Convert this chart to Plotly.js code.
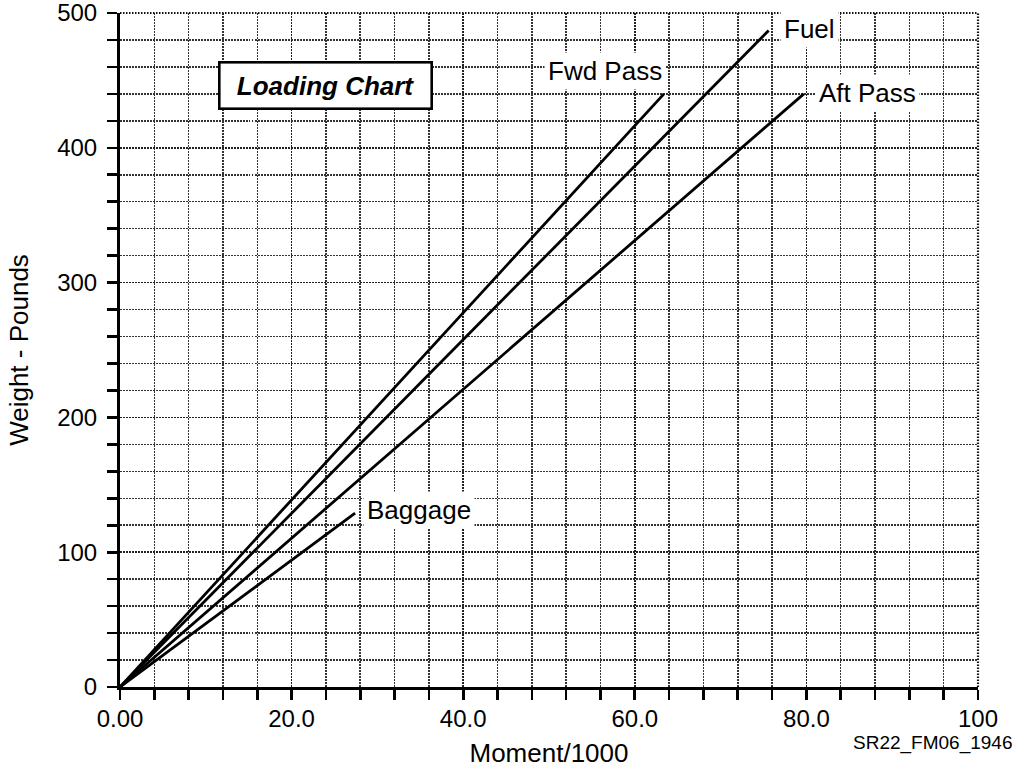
<!DOCTYPE html>
<html>
<head>
<meta charset="utf-8">
<script src="https://cdn.plot.ly/plotly-3.0.1.min.js"></script>
<style>html,body{margin:0;padding:0;background:#fff;}#chart{width:1022px;height:771px;}</style>
</head>
<body>
<div id="chart"></div>
<script>
// Data (Moment/1000 vs Weight in pounds)
var seriesNames = ["Fwd Pass", "Fuel", "Aft Pass", "Baggage"];
var fwdPassMoment = [0, 63.4];
var fwdPassWeight = [0, 440];
var fuelMoment = [0, 75.6];
var fuelWeight = [0, 487];
var aftPassMoment = [0, 79.7];
var aftPassWeight = [0, 440];
var baggageMoment = [0, 27.4];
var baggageWeight = [0, 129];

var xTickVals = [0, 20, 40, 60, 80, 100];
var xTickText = ["0.00", "20.0", "40.0", "60.0", "80.0", "100"];
var yTickVals = [0, 100, 200, 300, 400, 500];
var yTickText = ["0", "100", "200", "300", "400", "500"];

// label anchor positions (data units)
var labelX = [56.5, 80.4, 87.1, 34.8];
var labelY = [457, 488, 441, 131];

var FONT = "Liberation Sans, Arial, Helvetica, sans-serif";
var lineStyle = {color: "#000", width: 2.8};

var traces = [
  {x: fwdPassMoment, y: fwdPassWeight, name: seriesNames[0]},
  {x: fuelMoment, y: fuelWeight, name: seriesNames[1]},
  {x: aftPassMoment, y: aftPassWeight, name: seriesNames[2]},
  {x: baggageMoment, y: baggageWeight, name: seriesNames[3]}
].map(function (t) {
  t.type = "scatter"; t.mode = "lines"; t.line = lineStyle; t.hoverinfo = "skip"; t.cliponaxis = false;
  return t;
});

var annotations = seriesNames.map(function (n, i) {
  return {
    x: labelX[i], y: labelY[i], xref: "x", yref: "y", text: n, showarrow: false,
    font: {family: FONT, size: 26, color: "#000"}, bgcolor: "#fff", borderpad: 3,
    xanchor: "center", yanchor: "middle"
  };
});
annotations.push({
  x: 24.0, y: 446.5, xref: "x", yref: "y", text: "<b><i>Loading Chart</i></b>", showarrow: false,
  font: {family: FONT, size: 26, color: "#000"}, bgcolor: "#fff", bordercolor: "#000", borderwidth: 2.6,
  borderpad: 2, width: 206, height: 40, xanchor: "center", yanchor: "middle"
});
annotations.push({
  x: 94.8, y: -0.083, xref: "x", yref: "paper", text: "SR22_FM06_1946", showarrow: false,
  font: {family: FONT, size: 19, color: "#000"}, xanchor: "center", yanchor: "middle"
});

var DOTS = "1.5px,1.5px";
var frameShapes = [
  {type: "line", xref: "paper", yref: "paper", x0: 0, x1: 1, y0: 1, y1: 1, line: {color: "#111", width: 2.2, dash: DOTS}},
  {type: "line", xref: "paper", yref: "paper", x0: 1, x1: 1, y0: 0, y1: 1, line: {color: "#111", width: 2.2, dash: DOTS}}
];

var layout = {
  width: 1022, height: 771,
  margin: {l: 120, r: 44, t: 13, b: 84},
  paper_bgcolor: "#fff", plot_bgcolor: "#fff",
  showlegend: false,
  font: {family: FONT, color: "#000"},
  xaxis: {
    range: [0, 100], tickmode: "array", tickvals: xTickVals, ticktext: xTickText,
    ticks: "outside", ticklen: 10, tickwidth: 2.6, tickcolor: "#000",
    showline: true, linecolor: "#000", linewidth: 3, zeroline: false,
    showgrid: true, gridcolor: "#222", gridwidth: 1.7, griddash: DOTS,
    tickfont: {family: FONT, size: 24, color: "#000"}, ticklabelstandoff: -2, ticklabeloverflow: "allow",
    minor: {tickmode: "linear", tick0: 0, dtick: 4, ticks: "outside", ticklen: 10, tickwidth: 2.6, tickcolor: "#000",
            showgrid: true, gridcolor: "#333", gridwidth: 1.5, griddash: DOTS},
    title: {text: "Moment/1000", font: {family: FONT, size: 26, color: "#000"}, standoff: 14},
    automargin: false, fixedrange: true
  },
  yaxis: {
    range: [0, 500], tickmode: "array", tickvals: yTickVals, ticktext: yTickText,
    ticks: "outside", ticklen: 10, tickwidth: 2.6, tickcolor: "#000",
    showline: true, linecolor: "#000", linewidth: 3, zeroline: false,
    showgrid: true, gridcolor: "#222", gridwidth: 1.7, griddash: DOTS,
    tickfont: {family: FONT, size: 24, color: "#000"}, ticklabelstandoff: 5, ticklabeloverflow: "allow",
    minor: {tickmode: "linear", tick0: 0, dtick: 20, ticks: "outside", ticklen: 10, tickwidth: 2.6, tickcolor: "#000",
            showgrid: true, gridcolor: "#333", gridwidth: 1.5, griddash: DOTS},
    title: {text: "Weight - Pounds", font: {family: FONT, size: 26, color: "#000"}, standoff: 22},
    automargin: false, fixedrange: true
  },
  shapes: frameShapes,
  annotations: annotations
};

Plotly.newPlot("chart", traces, layout, {displayModeBar: false, staticPlot: true});
</script>
</body>
</html>
